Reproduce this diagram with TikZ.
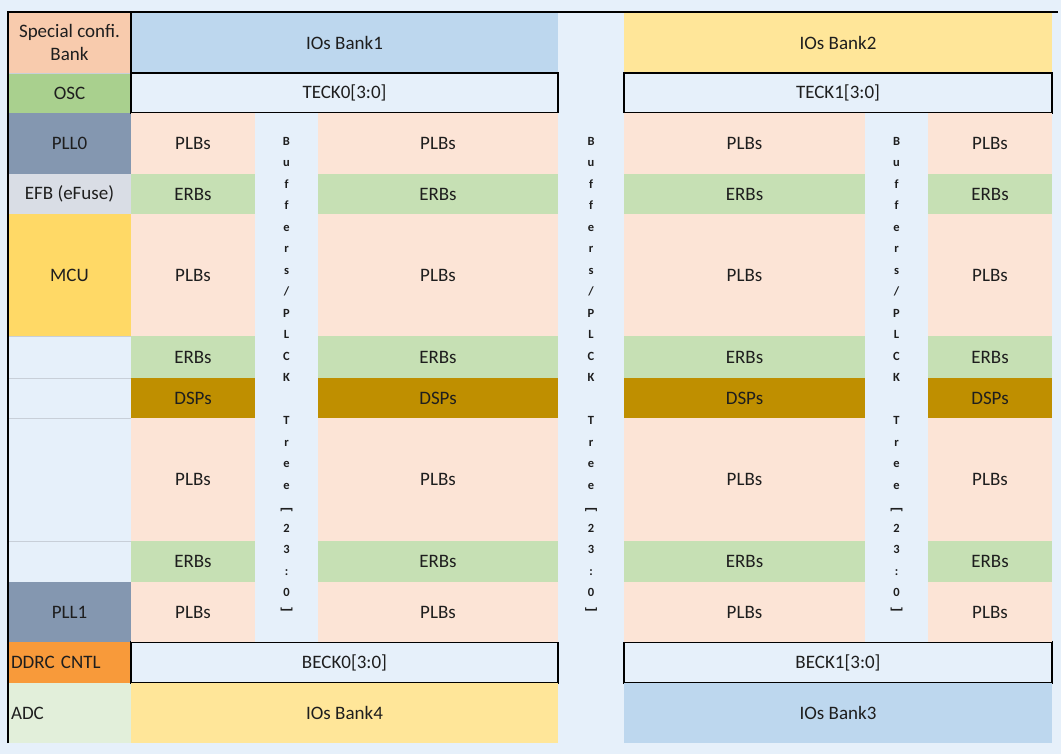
\documentclass[tikz,border=0pt]{standalone}
\usepackage{fontspec}
\setmainfont{Carlito}
\newfontfamily\cjk{Noto Sans CJK SC}
\definecolor{bgc}{HTML}{E6F0FA}
\definecolor{txt}{HTML}{1E1E1E}
\definecolor{cspec}{HTML}{F8CBAD}
\definecolor{cblue}{HTML}{BDD7EE}
\definecolor{cyel}{HTML}{FFE699}
\definecolor{cosc}{HTML}{A9D08E}
\definecolor{cpll}{HTML}{8497B0}
\definecolor{cefb}{HTML}{D9DDE5}
\definecolor{cmcu}{HTML}{FFD966}
\definecolor{cplb}{HTML}{FCE4D6}
\definecolor{cerb}{HTML}{C6E0B4}
\definecolor{cdsp}{HTML}{BF8F00}
\definecolor{cddr}{HTML}{F89A3A}
\definecolor{cadc}{HTML}{E2EFDA}
\definecolor{cgrid}{HTML}{C8CFD8}
\newcommand{\cellbox}[7]{%
  \node[cell,#6,minimum width={(#4)-(#2)},minimum height={(#5)-(#3)}]
    (#1) at ({((#2)+(#4))/2},{((#3)+(#5))/2}) {#7};}
\newcommand{\vstack}{B\\u\\f\\f\\e\\r\\s\\/\\P\\L\\C\\K\\[21.5pt]T\\r\\e\\e\\{\cjk ﹇}\\2\\3\\:\\0\\{\cjk ﹈}}
\begin{document}
\begin{tikzpicture}[x=1pt,y=-1pt,
  cell/.style={inner sep=0pt, outer sep=0pt, text=txt, align=center,
    font={\fontsize{19}{23}\selectfont}},
  plb/.style={fill=cplb},
  erb/.style={fill=cerb},
  dsp/.style={fill=cdsp},
  boxed/.style={fill=bgc, draw=black, line width=1.3pt},
  leftlbl/.style={align=left, text width={(#1)-6}, inner xsep=3pt},
  vtext/.style={cell, fill=bgc, text depth=0pt, font={\fontsize{12.5}{21.5}\selectfont\bfseries}},
  frame/.style={draw=black, line width=1.3pt},
  grid/.style={draw=cgrid, line width=0.6pt}]
\fill[bgc] (0,0) rectangle (1061,754);
\useasboundingbox (0,0) rectangle (1061,754);
% left column
\cellbox{spec}{8}{12}{131}{73}{fill=cspec}{Special confi.\\Bank}
\cellbox{osc}{8}{73}{131}{113}{fill=cosc}{OSC}
\cellbox{pll0}{8}{113}{131}{174}{fill=cpll}{PLL0}
\cellbox{efb}{8}{174}{131}{214}{fill=cefb}{EFB (eFuse)}
\cellbox{mcu}{8}{214}{131}{336}{fill=cmcu}{MCU}
\cellbox{pll1}{8}{582}{131}{642}{fill=cpll}{PLL1}
\cellbox{ddrc}{8}{642}{131}{683}{fill=cddr,leftlbl=123}{DDRC CNTL}
\cellbox{adc}{8}{683}{131}{743}{fill=cadc,leftlbl=123}{ADC}
% header and footer banks
\cellbox{iob1}{131}{12}{558}{73}{fill=cblue}{IOs Bank1}
\cellbox{iob2}{624}{12}{1052}{73}{fill=cyel}{IOs Bank2}
\cellbox{teck0}{131}{73}{558}{113}{boxed}{TECK0[3:0]}
\cellbox{teck1}{624}{73}{1052}{113}{boxed}{TECK1[3:0]}
\cellbox{beck0}{131}{642}{558}{683}{boxed}{BECK0[3:0]}
\cellbox{beck1}{624}{642}{1052}{683}{boxed}{BECK1[3:0]}
\cellbox{iob4}{131}{683}{558}{743}{fill=cyel}{IOs Bank4}
\cellbox{iob3}{624}{683}{1052}{743}{fill=cblue}{IOs Bank3}
% logic block rows
\foreach \ya/\yb/\st/\tx [count=\r] in {113/174/plb/PLBs, 174/214/erb/ERBs,
    214/336/plb/PLBs, 336/378/erb/ERBs, 378/418/dsp/DSPs, 418/541/plb/PLBs,
    541/582/erb/ERBs, 582/642/plb/PLBs}{
  \foreach \xa/\xb/\cn in {131/255/a, 318/558/b, 624/865/c, 928/1052/d}{
    \cellbox{\cn\r}{\xa}{\ya}{\xb}{\yb}{\st}{\tx}
  }
}
% buffer / clock tree columns
\cellbox{buf1}{255}{113}{318}{642}{vtext}{\vstack}
\cellbox{buf2}{558}{113}{624}{642}{vtext}{\vstack}
\cellbox{buf3}{865}{113}{928}{642}{vtext}{\vstack}
% light grid lines in empty left cells
\draw[grid] (mcu.south west) -- (mcu.south east);
\draw[grid] (8,378) -- (a5.north west);
\draw[grid] (8,418) -- (a6.north west);
\draw[grid] (8,541) -- (a7.north west);
\draw[grid] (spec.south west) -- (spec.south east);
% black frame
\draw[frame] (adc.south west) -- (spec.north west) -- ([xshift=6pt]iob2.north east);
\draw[frame] (spec.north east) -- (osc.south east);
\end{tikzpicture}
\end{document}
